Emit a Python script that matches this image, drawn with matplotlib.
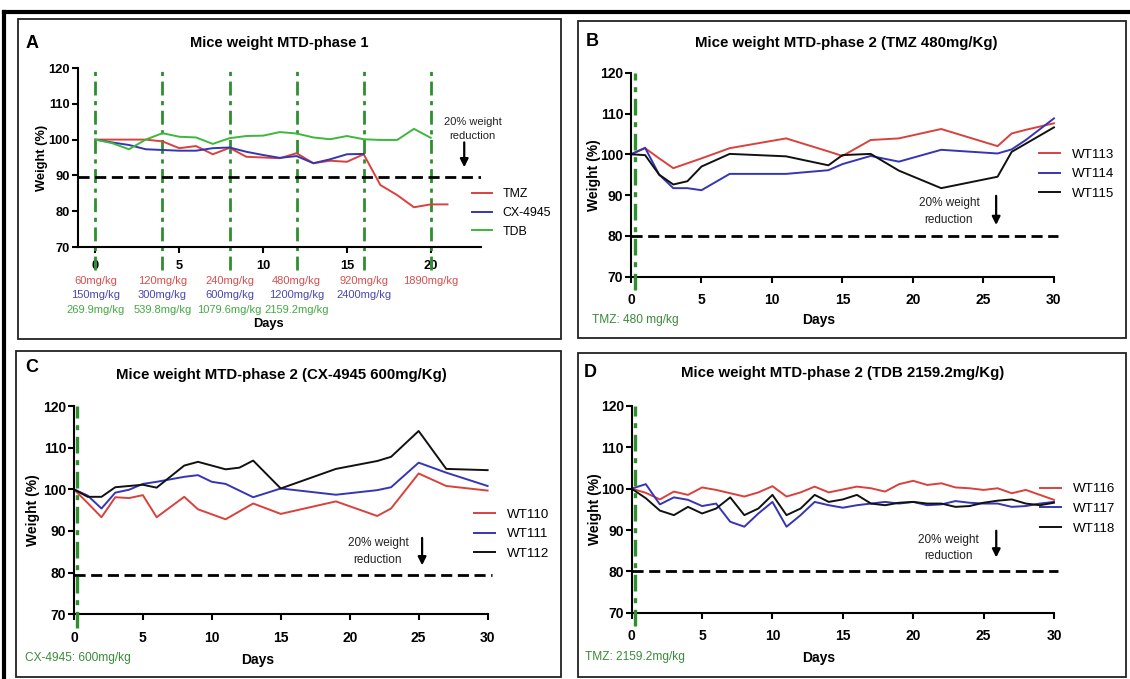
import matplotlib.pyplot as plt
from matplotlib.patches import Rectangle
from matplotlib.lines import Line2D
import matplotlib.transforms as mtransforms

plt.rcParams['font.family'] = ['Liberation Sans', 'DejaVu Sans']

W, H = 1130, 679

RED = '#d9413c'
BLUE = '#3535b5'
BLACK = '#111111'
GREEN = '#3cb83c'
DGREEN = '#2f8f2f'

# ---- panel A data: phase 1, escalating doses ----
days_tmz = list(range(22))
tmz = [100, 100, 100, 100, 99.5, 97.6, 98.2, 95.9, 97.7, 95.2, 95.0, 94.8,
       96.2, 93.4, 94.1, 93.8, 95.9, 87.3, 84.5, 81.1, 81.9, 81.9]
days_cx = list(range(17))
cx4945 = [100, 99.2, 98.5, 97.3, 97.1, 96.9, 96.9, 97.6, 97.8, 96.6, 95.7,
          94.9, 95.4, 93.4, 94.5, 95.9, 96.0]
days_tdb = list(range(21))
tdb = [100, 99.0, 97.3, 100.0, 101.8, 100.8, 100.6, 98.8, 100.4, 101.0, 101.1,
       102.1, 101.7, 100.6, 100.1, 101.0, 100.1, 99.9, 99.9, 103.0, 100.5]
dose_days = [0, 4, 8, 12, 16, 20]
dose_tmz = ['60mg/kg', '120mg/kg', '240mg/kg', '480mg/kg', '920mg/kg', '1890mg/kg']
dose_cx = ['150mg/kg', '300mg/kg', '600mg/kg', '1200mg/kg', '2400mg/kg']
dose_tdb = ['269.9mg/kg', '539.8mg/kg', '1079.6mg/kg', '2159.2mg/kg']

# ---- panel B data: TMZ 480 mg/kg ----
days_b = [0, 1, 2, 3, 4, 5, 7, 11, 14, 15, 17, 19, 22, 26, 27, 28, 30]
wt113 = [100, 101.5, 99.0, 96.6, 97.8, 99.0, 101.5, 103.9, 100.7, 99.6, 103.5,
         103.9, 106.2, 102.0, 105.1, 106.0, 107.6]
wt114 = [100, 101.6, 95.0, 91.7, 91.7, 91.2, 95.2, 95.2, 96.1, 97.6, 99.6,
         98.2, 101.1, 100.2, 101.2, 103.5, 108.8]
wt115 = [100, 99.8, 95.0, 92.6, 93.4, 97.0, 100.1, 99.5, 97.3, 99.8, 100.1,
         96.0, 91.7, 94.5, 100.6, 102.6, 106.6]

# ---- panel C data: CX-4945 600 mg/kg ----
days_c = [0, 1, 2, 3, 4, 5, 6, 8, 9, 10, 11, 12, 13, 15, 19, 22, 23, 25, 27, 30]
wt110 = [100, 96.7, 93.3, 98.1, 97.9, 98.6, 93.3, 98.2, 95.2, 94.0, 92.8, 94.7,
         96.6, 94.1, 97.1, 93.6, 95.4, 103.8, 100.8, 99.7]
wt111 = [100, 98.5, 95.4, 99.2, 99.9, 101.3, 101.8, 103.0, 103.4, 101.8, 101.3,
         99.7, 98.1, 100.2, 98.7, 99.8, 100.5, 106.4, 104.0, 100.8]
wt112 = [100, 98.2, 98.2, 100.5, 100.8, 101.1, 100.4, 105.7, 106.6, 105.7, 104.8,
         105.2, 106.9, 100.2, 104.9, 106.8, 107.8, 114.0, 104.9, 104.6]

# ---- panel D data: TDB 2159.2 mg/kg ----
days_d = list(range(31))
wt116 = [100, 99.0, 97.4, 99.3, 98.5, 100.3, 99.7, 98.9, 98.1, 99.1, 100.6, 98.1,
         99.1, 100.5, 99.1, 99.8, 100.5, 100.1, 99.3, 101.1, 101.9, 100.9, 101.3,
         100.3, 100.1, 99.7, 100.1, 98.9, 99.7, 98.5, 97.3]
wt117 = [100, 101.1, 96.2, 97.9, 97.3, 95.8, 96.4, 92.0, 90.8, 94.0, 96.8, 90.8,
         93.6, 96.8, 96.0, 95.4, 96.0, 96.4, 96.8, 96.4, 96.8, 96.0, 96.2, 97.0,
         96.6, 96.4, 96.4, 95.6, 95.8, 96.4, 96.8]
wt118 = [100, 97.7, 94.7, 93.6, 95.6, 94.0, 95.2, 97.9, 93.6, 95.2, 98.5, 93.6,
         95.2, 98.5, 96.8, 97.4, 98.5, 96.4, 96.0, 96.6, 96.8, 96.4, 96.4, 95.6,
         95.8, 96.6, 97.1, 97.4, 96.4, 96.0, 96.6]


def box(x0, y0, x1, y1):
    # pixel coords (top-left origin) -> figure fraction rect
    return [x0 / W, 1 - y1 / H, (x1 - x0) / W, (y1 - y0) / H]


def ftext(x, y, s, **kw):
    fig.text(x / W, 1 - y / H, s, **kw)


fig = plt.figure(figsize=(W / 100, H / 100), dpi=100)

# outer thick frame (top and left) and panel boxes
fig.add_artist(Line2D([4 / W, 1], [1 - 12 / H, 1 - 12 / H], color='black', lw=3))
fig.add_artist(Line2D([4 / W, 4 / W], [0, 1 - 12 / H], color='black', lw=3))
for (x0, y0, x1, y1) in [(18, 19, 561, 339), (578, 21, 1126, 338),
                         (16, 351, 561, 677), (578, 353, 1126, 677)]:
    fig.add_artist(Rectangle((x0 / W, 1 - y1 / H), (x1 - x0) / W, (y1 - y0) / H,
                             transform=fig.transFigure, fill=False,
                             ec='#222222', lw=1.3))


def style(ax, fs, xpad):
    for s in ['top', 'right']:
        ax.spines[s].set_visible(False)
    for s in ['left', 'bottom']:
        ax.spines[s].set_linewidth(1.5)
    ax.set_ylim(70, 120)
    ax.set_yticks([70, 80, 90, 100, 110, 120])
    ax.tick_params(axis='both', width=1.5, length=4, labelsize=fs)
    ax.tick_params(axis='x', pad=xpad)
    ax.tick_params(axis='y', pad=1.5)
    for lab in ax.get_xticklabels() + ax.get_yticklabels():
        lab.set_fontweight('bold')


def place_legend(ax, x, ymid, fs):
    ax.legend(loc='center left', bbox_to_anchor=(x / W, 1 - ymid / H),
              bbox_transform=fig.transFigure, frameon=False, fontsize=fs,
              borderpad=0, borderaxespad=0, handlelength=1.6,
              handletextpad=0.85, labelspacing=0.55)


def reduction_note(ax, xt, y1, y2, xa, ya0, ya1, fs=8.5):
    ax.text(xt, y1, '20% weight', ha='center', va='center', fontsize=fs, color='#222222')
    ax.text(xt, y2, 'reduction', ha='center', va='center', fontsize=fs, color='#222222')
    ax.annotate('', xy=(xa, ya1), xytext=(xa, ya0),
                arrowprops=dict(arrowstyle='-|>', color='black', lw=1.6,
                                mutation_scale=12))


dashdot = (0, (5, 2, 1.5, 2))

# ---------------- Panel A ----------------
axA = fig.add_axes(box(77.5, 68, 481, 247))
axA.set_xlim(-1.07, 23)
axA.set_xticks([0, 5, 10, 15, 20])
style(axA, 9.3, 5.5)
for d in dose_days:
    axA.plot([d, d], [63.6, 119.5], color=DGREEN, lw=2, ls=dashdot, clip_on=False)
axA.axhline(89.5, color='black', lw=2, ls=(0, (4, 2)))
axA.plot(days_tmz, tmz, color=RED, lw=1.4, label='TMZ')
axA.plot(days_cx, cx4945, color=BLUE, lw=1.4, label='CX-4945')
axA.plot(days_tdb, tdb, color=GREEN, lw=1.4, label='TDB')
place_legend(axA, 472, 213, 8.9)
reduction_note(axA, 22.5, 104.9, 101.0, 22.0, 100.0, 91.5, fs=8)
axA.set_ylabel('Weight (%)', fontsize=9.3, fontweight='bold')
axA.yaxis.set_label_coords(-0.073, 0.5)
trA = mtransforms.blended_transform_factory(axA.transData, axA.transAxes)
for rows, yfrac, col in [(dose_tmz, -0.19, '#d65050'), (dose_cx, -0.27, '#4848b0'),
                         (dose_tdb, -0.35, '#44aa44')]:
    for d, s in zip(dose_days, rows):
        axA.text(d, yfrac, s, transform=trA, ha='center', va='center',
                 fontsize=8, color=col)
ftext(268, 324, 'Days', ha='center', va='center', fontsize=9.3, fontweight='bold')
ftext(279, 43, 'Mice weight MTD-phase 1', ha='center', va='center',
      fontsize=10.5, fontweight='bold')
ftext(32, 43, 'A', ha='center', va='center', fontsize=13, fontweight='bold')

# ---------------- Panels B, C, D ----------------
panels = [
    dict(rect=(631, 72.7, 1061, 276.7), letter='B', lx=592, ly=41,
         title='Mice weight MTD-phase 2 (TMZ 480mg/Kg)', tx=846, ty=43,
         days=days_b, series=[(wt113, RED, 'WT113'), (wt114, BLUE, 'WT114'),
                              (wt115, BLACK, 'WT115')],
         thr=80, leg=(1039, 174), note=(22.55, 88.1, 83.9, 25.9, 90.5, 82.0),
         dose='TMZ: 480 mg/kg', dx=592, dy=320, days_xy=(819, 320), lc=-0.069),
    dict(rect=(73.9, 406, 494.5, 614.3), letter='C', lx=32, ly=367,
         title='Mice weight MTD-phase 2 (CX-4945 600mg/Kg)', tx=281, ty=375,
         days=days_c, series=[(wt110, RED, 'WT110'), (wt111, BLUE, 'WT111'),
                              (wt112, BLACK, 'WT112')],
         thr=79.5, leg=(474, 534), note=(22.05, 87.1, 83.0, 25.25, 89.0, 81.1),
         dose='CX-4945: 600mg/kg', dx=25, dy=658, days_xy=(258, 660), lc=-0.081),
    dict(rect=(631.7, 406, 1061, 612.7), letter='D', lx=590, ly=372,
         title='Mice weight MTD-phase 2 (TDB 2159.2mg/Kg)', tx=843, ty=373,
         days=days_d, series=[(wt116, RED, 'WT116'), (wt117, BLUE, 'WT117'),
                              (wt118, BLACK, 'WT118')],
         thr=80, leg=(1040, 509), note=(22.5, 87.6, 83.7, 25.9, 90.5, 82.7),
         dose='TMZ: 2159.2mg/kg', dx=585, dy=657, days_xy=(819, 658), lc=-0.069),
]

for p in panels:
    ax = fig.add_axes(box(*p['rect']))
    ax.set_xlim(0, 30.5)
    ax.set_xticks([0, 5, 10, 15, 20, 25, 30])
    ax.spines['bottom'].set_bounds(0, 30)
    style(ax, 10, 8)
    ax.plot([0.25, 0.25], [66.7, 120], color=DGREEN, lw=2.4, ls=dashdot,
            clip_on=False, zorder=3)
    ax.plot([0, 30.3], [p['thr'], p['thr']], color='black', lw=2, ls=(0, (4, 2)))
    for vals, col, lab in p['series']:
        ax.plot(p['days'], vals, color=col, lw=1.4, label=lab)
    place_legend(ax, p['leg'][0], p['leg'][1], 9.6)
    reduction_note(ax, *p['note'])
    ax.set_ylabel('Weight (%)', fontsize=10, fontweight='bold')
    ax.yaxis.set_label_coords(p['lc'], 0.5)
    ftext(p['days_xy'][0], p['days_xy'][1], 'Days', ha='center', va='center',
          fontsize=10, fontweight='bold')
    ftext(p['tx'], p['ty'], p['title'], ha='center', va='center',
          fontsize=10.8, fontweight='bold')
    ftext(p['lx'], p['ly'], p['letter'], ha='center', va='center',
          fontsize=13, fontweight='bold')
    ftext(p['dx'], p['dy'], p['dose'], ha='left', va='center', fontsize=8.6,
          color='#3a8a3a')

fig.savefig('out.png', dpi=100)
